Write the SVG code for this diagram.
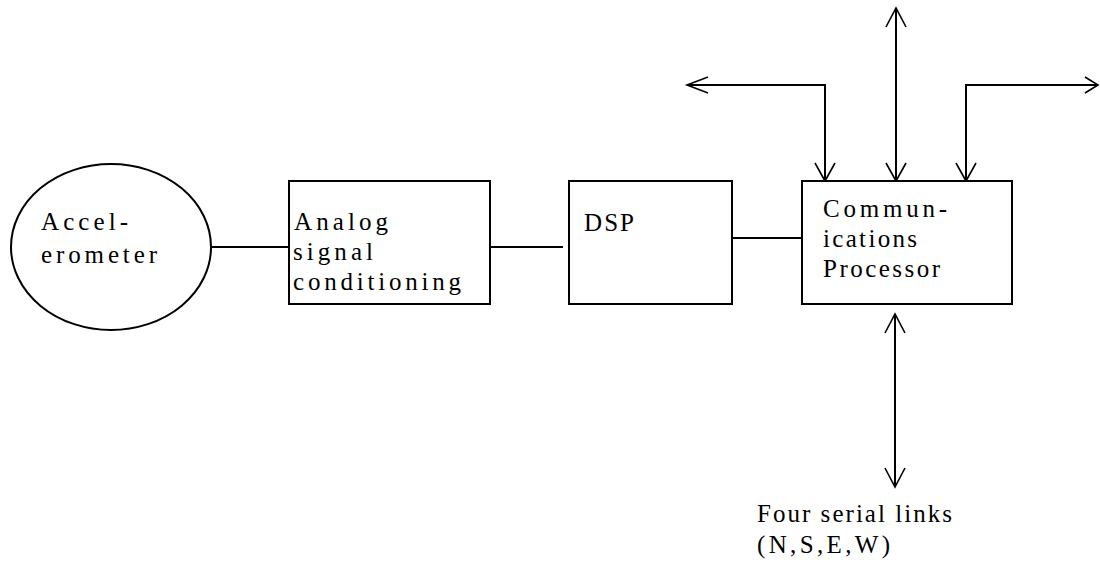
<svg xmlns="http://www.w3.org/2000/svg" width="1100" height="574" viewBox="0 0 1100 574">
<rect width="1100" height="574" fill="#fff"/>
<g id="connectors" fill="none" stroke="#000" stroke-width="2">
<line x1="211" y1="247" x2="289" y2="247"/>
<line x1="486" y1="247" x2="563" y2="247"/>
<line x1="732" y1="238" x2="802" y2="238"/>
<polyline points="825,181 825,85 687,85"/>
<line x1="896" y1="8" x2="896" y2="181"/>
<polyline points="966,181 966,85 1098,85"/>
<line x1="895" y1="314" x2="895" y2="487"/>
<g id="arrowheads" stroke-width="1.6">
<polyline points="815,163 825,181 835,163"/>
<polyline points="708,77 687,85 708,93"/>
<polyline points="886,27 896,8 906,27"/>
<polyline points="886,163 896,181 906,163"/>
<polyline points="956,163 966,181 976,163"/>
<polyline points="1085,77 1098,85 1085,93"/>
<polyline points="885,333 895,314 905,333"/>
<polyline points="885,468 895,487 905,468"/>
</g>
</g>
<g id="accelerometer">
<ellipse cx="111" cy="247" rx="100" ry="83" fill="#fff" stroke="#000" stroke-width="2"/>
<text font-family="Liberation Serif" font-size="25" x="41" y="230" textLength="87" lengthAdjust="spacing">Accel-</text>
<text font-family="Liberation Serif" font-size="25" x="41" y="263" textLength="116" lengthAdjust="spacing">erometer</text>
</g>
<g id="analog">
<rect x="289" y="181" width="201" height="123" fill="#fff" stroke="#000" stroke-width="2"/>
<text font-family="Liberation Serif" font-size="25" x="294" y="230" textLength="94" lengthAdjust="spacing">Analog</text>
<text font-family="Liberation Serif" font-size="25" x="293" y="260" textLength="80" lengthAdjust="spacing">signal</text>
<text font-family="Liberation Serif" font-size="25" x="293" y="290" textLength="168" lengthAdjust="spacing">conditioning</text>
</g>
<g id="dsp">
<rect x="569" y="181" width="163" height="123" fill="#fff" stroke="#000" stroke-width="2"/>
<text font-family="Liberation Serif" font-size="25" x="584" y="231" textLength="50" lengthAdjust="spacing">DSP</text>
</g>
<g id="comm">
<rect x="802" y="181" width="210" height="123" fill="#fff" stroke="#000" stroke-width="2"/>
<text font-family="Liberation Serif" font-size="25" x="823" y="217" textLength="124" lengthAdjust="spacing">Commun-</text>
<text font-family="Liberation Serif" font-size="25" x="823" y="247" textLength="94" lengthAdjust="spacing">ications</text>
<text font-family="Liberation Serif" font-size="25" x="823" y="277" textLength="117" lengthAdjust="spacing">Processor</text>
</g>
<g id="label">
<text font-family="Liberation Serif" font-size="25" x="757" y="522" textLength="195" lengthAdjust="spacing">Four serial links</text>
<text font-family="Liberation Serif" font-size="25" x="757" y="553" textLength="133" lengthAdjust="spacing">(N,S,E,W)</text>
</g>
</svg>
